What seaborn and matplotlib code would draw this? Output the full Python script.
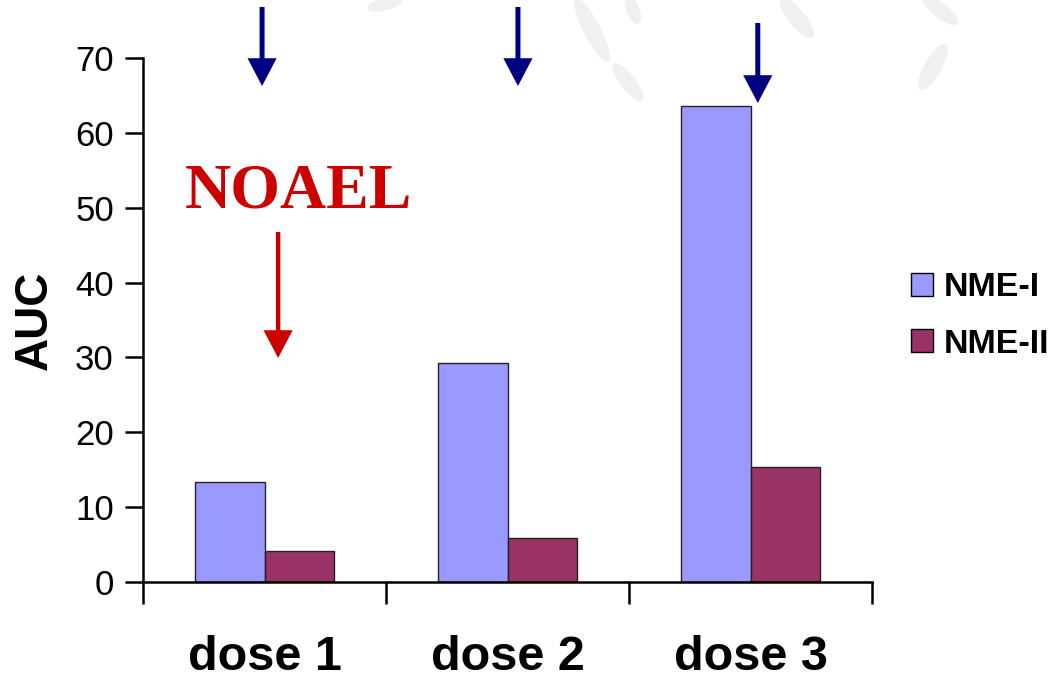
import matplotlib
matplotlib.use("Agg")
import matplotlib.pyplot as plt
from matplotlib.patches import Ellipse
import seaborn as sns
import pandas as pd

categories = ["dose 1", "dose 2", "dose 3"]
series_names = ["NME-I", "NME-II"]
nme1_values = [13.4, 29.3, 63.6]
nme2_values = [4.1, 5.9, 15.4]
y_ticks = [0, 10, 20, 30, 40, 50, 60, 70]

df = pd.DataFrame({
    "dose": categories * 2,
    "series": [series_names[0]] * 3 + [series_names[1]] * 3,
    "AUC": nme1_values + nme2_values,
})

sns.set_style("white")
plt.rcParams["font.family"] = ["Liberation Sans", "DejaVu Sans"]
for k in ["text.color", "axes.labelcolor", "xtick.color", "ytick.color"]:
    plt.rcParams[k] = "black"

W, H = 1061, 678
fig = plt.figure(figsize=(W / 100, H / 100), dpi=100)

# faint background watermark shapes (pixel coordinates)
bg = fig.add_axes([0, 0, 1, 1], zorder=-10)
bg.set_xlim(0, W)
bg.set_ylim(H, 0)
bg.axis("off")
blades = [(592, 30, 72, 17, 63), (628, 82, 47, 15, 52), (633, 10, 30, 13, 70),
          (797, 18, 50, 17, 51), (940, 10, 45, 15, 39), (933, 67, 52, 17, 119),
          (385, 4, 36, 13, -15)]
for cx, cy, ln, wd, ang in blades:
    bg.add_patch(Ellipse((cx, cy), ln, wd, angle=ang, facecolor="#F0F0F0", edgecolor="none"))

ax = fig.add_axes([143 / W, 1 - 582 / H, (872 - 143) / W, (582 - 58) / H])
ax.patch.set_alpha(0)

palette = {"NME-I": "#9999FF", "NME-II": "#993366"}
sns.barplot(data=df, x="dose", y="AUC", hue="series", order=categories,
            hue_order=series_names, palette=palette, width=0.57,
            edgecolor="#222222", linewidth=1.0, ax=ax, saturation=1)

ax.set_xlim(-0.5, 2.5)
ax.set_ylim(0, 70)
ax.set_yticks(y_ticks)
ax.set_yticklabels([str(v) for v in y_ticks], fontsize=25)
ax.tick_params(axis="y", direction="out", length=13, width=1.8, pad=8, left=True, color="black")

ax.set_xticks([0, 1, 2])
ax.set_xticklabels(categories, fontsize=35, fontweight="bold")
ax.tick_params(axis="x", which="major", length=0, pad=38)
ax.set_xticks([-0.5, 0.5, 1.5, 2.5], minor=True)
ax.tick_params(axis="x", which="minor", direction="out", length=16, width=1.8, bottom=True, color="black")

ax.set_xlabel("")
ax.set_ylabel("AUC", fontsize=33, fontweight="bold", labelpad=13)

for s in ["top", "right"]:
    ax.spines[s].set_visible(False)
for s in ["left", "bottom"]:
    ax.spines[s].set_color("black")
    ax.spines[s].set_linewidth(1.8)

ax.get_legend().remove()
handles, labels = ax.get_legend_handles_labels()
leg = fig.legend(handles, labels, loc="center left", bbox_to_anchor=(911 / W, 1 - 316 / H),
                 frameon=False, prop={"size": 24.5, "weight": "bold"},
                 handlelength=0.65, handleheight=0.65, handletextpad=0.3,
                 labelspacing=0.75, borderpad=0, borderaxespad=0)
for h in leg.legend_handles:
    h.set_edgecolor("black")

# blue arrows above each dose group
blue_arrows = [(-0.01, 7, 86), (1.043, 7, 86), (2.03, 23, 103)]
for xd, ytop, ytip in blue_arrows:
    ax.annotate("", xy=(xd, 1 - ytip / H), xytext=(xd, 1 - ytop / H),
                xycoords=("data", "figure fraction"), textcoords=("data", "figure fraction"),
                arrowprops=dict(facecolor="#000080", edgecolor="none", width=3.6,
                                headwidth=21, headlength=20, shrink=0),
                annotation_clip=False)

# NOAEL label and red arrow
fig.text(298 / W, 1 - 208 / H, "NOAEL", ha="center", va="baseline",
         fontsize=46, fontweight="bold", color="#CC0000",
         family=["Liberation Serif", "DejaVu Serif"])
ax.annotate("", xy=(0.056, 1 - 358 / H), xytext=(0.056, 1 - 232 / H),
            xycoords=("data", "figure fraction"), textcoords=("data", "figure fraction"),
            arrowprops=dict(facecolor="#CC0000", edgecolor="none", width=3.2,
                            headwidth=21, headlength=20, shrink=0),
            annotation_clip=False)

fig.savefig("out.png", dpi=100, facecolor="white")
